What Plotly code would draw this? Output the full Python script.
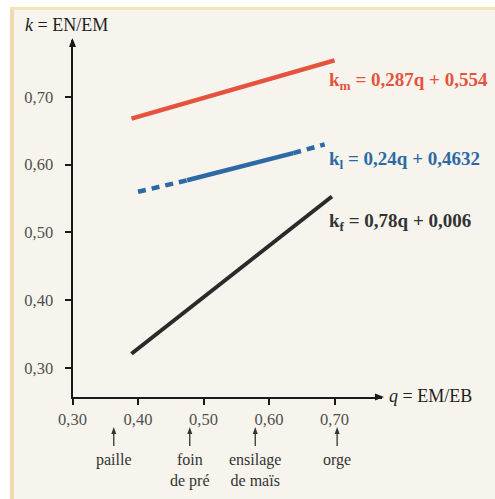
import plotly.graph_objects as go

W, H = 495, 499

# ---- data ----
km_q = [0.39, 0.70]
km_k = [0.668, 0.754]

kl_q = [0.40, 0.475, 0.637, 0.685]
kl_k = [0.560, 0.577, 0.617, 0.630]
kl_styles = ["8px,6px", "solid", "8px,6px"]

kf_q = [0.39, 0.696]
kf_k = [0.321, 0.553]

x_ticks = [0.30, 0.40, 0.50, 0.60, 0.70]
x_ticktext = ["0,30", "0,40", "0,50", "0,60", "0,70"]
y_ticks = [0.30, 0.40, 0.50, 0.60, 0.70]
y_ticktext = ["0,30", "0,40", "0,50", "0,60", "0,70"]

feed_names = ["paille", "foin<br>de pré", "ensilage<br>de maïs", "orge"]
feed_q = [0.363, 0.479, 0.579, 0.704]

eq_texts = ["k<sub>m</sub> = 0,287q + 0,554",
            "k<sub>l</sub> = 0,24q + 0,4632",
            "k<sub>f</sub> = 0,78q + 0,006"]
eq_k = [0.724, 0.607, 0.515]

RED = "#e5533f"
BLUE = "#2d6aa5"
BLACK = "#2a2a2a"
SERIF = "Liberation Serif"

XR = [0.30, 0.7725]
YR = [0.2572, 0.784]
# pixel placement of the axes box
px_l, px_r, px_t, px_b = 72.5, 382, 40, 397
ppx = (px_r - px_l) / (XR[1] - XR[0])


def fy(py):
    return 1 - py / H


def fx(px):
    return px / W


def tri(cx, cy, w, h, direction):
    """triangle path in paper coordinates from pixel values"""
    if direction == "up":
        pts = [(cx - w / 2, cy + h), (cx, cy), (cx + w / 2, cy + h)]
    else:
        pts = [(cx - h, cy - w / 2), (cx, cy), (cx - h, cy + w / 2)]
    return "M " + " L ".join(f"{fx(a):.5f},{fy(b):.5f}" for a, b in pts) + " Z"


fig = go.Figure()

fig.add_trace(go.Scatter(x=km_q, y=km_k, mode="lines",
                         line=dict(color=RED, width=4.5), hoverinfo="skip"))
for i, st in enumerate(kl_styles):
    fig.add_trace(go.Scatter(x=kl_q[i:i + 2], y=kl_k[i:i + 2], mode="lines",
                             line=dict(color=BLUE, width=4.5, dash=st),
                             hoverinfo="skip"))
fig.add_trace(go.Scatter(x=kf_q, y=kf_k, mode="lines",
                         line=dict(color=BLACK, width=4), hoverinfo="skip"))

shapes = [
    dict(type="rect", xref="paper", yref="paper", x0=0, x1=fx(10), y0=0, y1=1,
         fillcolor="#ffffff", line=dict(width=0), layer="below"),
    dict(type="rect", xref="paper", yref="paper", x0=0, x1=1, y0=fy(7), y1=1,
         fillcolor="#ffffff", line=dict(width=0), layer="below"),
    dict(type="rect", xref="paper", yref="paper", x0=fx(10), x1=fx(14), y0=0,
         y1=fy(7), fillcolor="#f0dcaa", line=dict(width=0), layer="below"),
    dict(type="rect", xref="paper", yref="paper", x0=fx(10), x1=1, y0=fy(10),
         y1=fy(7), fillcolor="#f3e3b8", line=dict(width=0), layer="below"),
    # axis arrowheads
    dict(type="path", xref="paper", yref="paper", path=tri(px_l, px_t - 2, 7, 9, "up"),
         fillcolor="#1a1a1a", line=dict(width=0)),
    dict(type="path", xref="paper", yref="paper", path=tri(px_r + 2, px_b, 7, 9, "right"),
         fillcolor="#1a1a1a", line=dict(width=0)),
]
for q in feed_q:
    px = px_l + (q - XR[0]) * ppx
    shapes.append(dict(type="line", xref="paper", yref="paper", x0=fx(px), x1=fx(px),
                       y0=fy(446), y1=fy(432), line=dict(color="#333", width=1.3)))
    shapes.append(dict(type="path", xref="paper", yref="paper",
                       path=tri(px, 427, 5, 7, "up"),
                       fillcolor="#333", line=dict(width=0)))

ann = []
# axis titles
ann.append(dict(x=fx(23), y=fy(25), xref="paper", yref="paper", xanchor="left",
                yanchor="middle", showarrow=False,
                text="<i>k</i> = EN/EM",
                font=dict(family=SERIF, size=18, color="#1e1e1e")))
ann.append(dict(x=fx(387), y=fy(396), xref="paper", yref="paper", xanchor="left",
                yanchor="middle", showarrow=False,
                text="<i>q</i> = EM/EB",
                font=dict(family=SERIF, size=18, color="#1e1e1e")))
# equations
for t, k, c in zip(eq_texts, eq_k, [RED, BLUE, "#333333"]):
    ann.append(dict(x=0.689, y=k, xref="x", yref="y", xanchor="left", yanchor="middle",
                    showarrow=False, text="<b>" + t + "</b>",
                    font=dict(family=SERIF, size=19, color=c)))
# feed labels
for name, q in zip(feed_names, feed_q):
    ann.append(dict(x=q, y=fy(449), xref="x", yref="paper", xanchor="center",
                    yanchor="top", showarrow=False, text=name, align="center",
                    font=dict(family=SERIF, size=16, color="#333")))

fig.update_layout(
    width=W, height=H, autosize=False, template="none",
    font=dict(family=SERIF),
    margin=dict(l=0, r=0, t=0, b=0, pad=0),
    paper_bgcolor="#f6f4ed", plot_bgcolor="rgba(0,0,0,0)",
    showlegend=False,
    annotations=ann, shapes=shapes,
    xaxis=dict(domain=[fx(px_l), fx(px_r)], range=XR, showgrid=False, zeroline=False,
               automargin=False, fixedrange=True,
               showline=True, linecolor="#1a1a1a", linewidth=2,
               ticks="outside", ticklen=6, tickwidth=1.5, tickcolor="#1a1a1a",
               tickvals=x_ticks, ticktext=x_ticktext,
               tickfont=dict(family=SERIF, size=16.5, color="#505050")),
    yaxis=dict(domain=[fy(px_b), fy(px_t)], range=YR, showgrid=False,
               zeroline=False, automargin=False, fixedrange=True,
               showline=True, linecolor="#1a1a1a", linewidth=2,
               ticks="outside", ticklen=6, tickwidth=1.5, tickcolor="#1a1a1a",
               ticklabelstandoff=8,
               tickvals=y_ticks, ticktext=y_ticktext,
               tickfont=dict(family=SERIF, size=16.5, color="#505050")),
)

fig.write_html("out.html", config={"displayModeBar": False},
               post_script="document.body.style.margin='0';"
                           "document.body.style.overflow='hidden';")
